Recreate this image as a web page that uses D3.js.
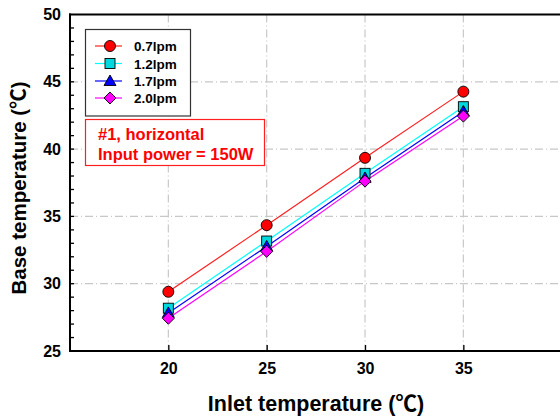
<!DOCTYPE html>
<html><head><meta charset="utf-8">
<script src="https://cdn.jsdelivr.net/npm/d3@7"></script>
<style>body{margin:0;background:#fff}svg{display:block}text{font-family:Arial,"Liberation Sans",sans-serif;font-weight:bold}</style>
</head><body><svg id="c" width="560" height="417"></svg>
<script>
const inletTemps = [20, 25, 30, 35];
const seriesNames = ["0.7lpm", "1.2lpm", "1.7lpm", "2.0lpm"];
const flow07 = [29.4, 34.35, 39.35, 44.27];
const flow12 = [28.18, 33.17, 38.2, 43.15];
const flow17 = [27.83, 32.77, 37.85, 42.8];
const flow20 = [27.43, 32.4, 37.62, 42.45];
const xTicks = [20, 25, 30, 35];
const yTicks = [25, 30, 35, 40, 45, 50];
const noteLines = ["#1, horizontal", "Input power = 150W"];

const series = [
  {name: seriesNames[0], values: flow07, color: "#ff2020", fill: "#ff0000", shape: "circle"},
  {name: seriesNames[1], values: flow12, color: "#00ffff", fill: "#00d8e0", shape: "square"},
  {name: seriesNames[2], values: flow17, color: "#0000ff", fill: "#0000ff", shape: "triangle"},
  {name: seriesNames[3], values: flow20, color: "#ff00ff", fill: "#ff00ff", shape: "diamond"}
];

const svg = d3.select("#c");
const L = 70, R = 561.7, T = 14.5, B = 351;
const x = d3.scaleLinear().domain([15, 40]).range([L, R]);
const y = d3.scaleLinear().domain([25, 50]).range([B, T]);

// grid
const dash = "8,3,1,3";
svg.append("g").selectAll("line").data([20,25,30,35,40]).join("line")
  .attr("x1", d => x(d)).attr("x2", d => x(d)).attr("y1", T).attr("y2", B)
  .attr("stroke", "#c8c8c8").attr("stroke-width", 1.2).attr("stroke-dasharray", dash);
svg.append("g").selectAll("line").data([30,35,40,45]).join("line")
  .attr("x1", L).attr("x2", 560).attr("y1", d => y(d)).attr("y2", d => y(d))
  .attr("stroke", "#c8c8c8").attr("stroke-width", 1.2).attr("stroke-dasharray", dash);

// axes
const yAxis = d3.axisLeft(y).tickValues(yTicks).tickSize(0).tickPadding(9);
const gy = svg.append("g").attr("transform", `translate(${L},0)`).call(yAxis);
gy.select(".domain").remove();
gy.selectAll("text").attr("font-size", 16).attr("fill", "#000").style("font-weight","bold");
// minor y ticks inside
svg.append("g").selectAll("line").data(d3.range(26, 50)).join("line")
  .attr("x1", L).attr("x2", L + 4).attr("y1", d => y(d)).attr("y2", d => y(d))
  .attr("stroke", "#000").attr("stroke-width", 1.3);

const xAxis = d3.axisBottom(x).tickValues(xTicks).tickSizeInner(-6).tickSizeOuter(0).tickPadding(12);
const gx = svg.append("g").attr("transform", `translate(0,${B})`).call(xAxis);
gx.select(".domain").remove();
gx.selectAll(".tick line").attr("stroke", "#000").attr("stroke-width", 1.3);
gx.selectAll("text").attr("font-size", 16).attr("fill", "#000").style("font-weight","bold");

svg.append("line").attr("x1", L).attr("x2", L).attr("y1", T - 1).attr("y2", B + 1).attr("stroke", "#000").attr("stroke-width", 2);
svg.append("line").attr("x1", L - 1).attr("x2", 560).attr("y1", B).attr("y2", B).attr("stroke", "#000").attr("stroke-width", 2);
svg.append("line").attr("x1", L - 1).attr("x2", 560).attr("y1", T).attr("y2", T).attr("stroke", "#000").attr("stroke-width", 2);

// titles
function title(sel, main) {
  sel.append("tspan").text(main + " (");
  sel.append("tspan").style("font-family", '"Noto Sans CJK KR","Noto Sans CJK SC",sans-serif').style("font-weight", "bold").text("℃");
  sel.append("tspan").text(")");
}
title(svg.append("text").attr("x", 316).attr("y", 411).attr("text-anchor", "middle").attr("font-size", 21.5), "Inlet temperature");
title(svg.append("text").attr("transform", "translate(26,188) rotate(-90)").attr("text-anchor", "middle").attr("font-size", 20.5), "Base temperature");

function marker(g, shape, fill) {
  if (shape === "circle") g.append("circle").attr("r", 5.5);
  else if (shape === "square") g.append("rect").attr("x", -5).attr("y", -5).attr("width", 10).attr("height", 10);
  else if (shape === "triangle") g.append("path").attr("d", "M0,-6L6,4.5L-6,4.5Z");
  else g.append("path").attr("d", "M0,-6L6,0L0,6L-6,0Z");
  g.selectAll("*").attr("fill", fill).attr("stroke", "#000").attr("stroke-width", 0.9);
}

const line = d3.line().x((d, i) => x(inletTemps[i])).y(d => y(d));
series.forEach(s => {
  svg.append("path").attr("d", line(s.values)).attr("fill", "none").attr("stroke", s.color).attr("stroke-width", 1.2);
});
series.forEach(s => {
  s.values.forEach((v, i) => {
    const g = svg.append("g").attr("transform", `translate(${x(inletTemps[i])},${y(v)})`);
    marker(g, s.shape, s.fill);
  });
});

// legend
svg.append("rect").attr("x", 85.5).attr("y", 29.5).attr("width", 105).attr("height", 86.5)
  .attr("fill", "#fff").attr("stroke", "#333").attr("stroke-width", 1.2);
const rows = [46, 63.5, 81, 98];
series.forEach((s, i) => {
  svg.append("line").attr("x1", 95).attr("x2", 122).attr("y1", rows[i]).attr("y2", rows[i]).attr("stroke", s.color).attr("stroke-width", 1.2);
  const g = svg.append("g").attr("transform", `translate(110,${rows[i]})`);
  marker(g, s.shape, s.fill);
  svg.append("text").attr("x", 134).attr("y", rows[i] + 5).attr("font-size", 13.5).text(s.name);
});

// annotation
svg.append("rect").attr("x", 85.5).attr("y", 119.5).attr("width", 179).attr("height", 46)
  .attr("fill", "#fff").attr("stroke", "#ff2020").attr("stroke-width", 1.2);
noteLines.forEach((t, i) => {
  svg.append("text").attr("x", 98).attr("y", 140 + i * 19.5).attr("font-size", 16.5).attr("fill", "#ff0000").text(t);
});
</script></body></html>
